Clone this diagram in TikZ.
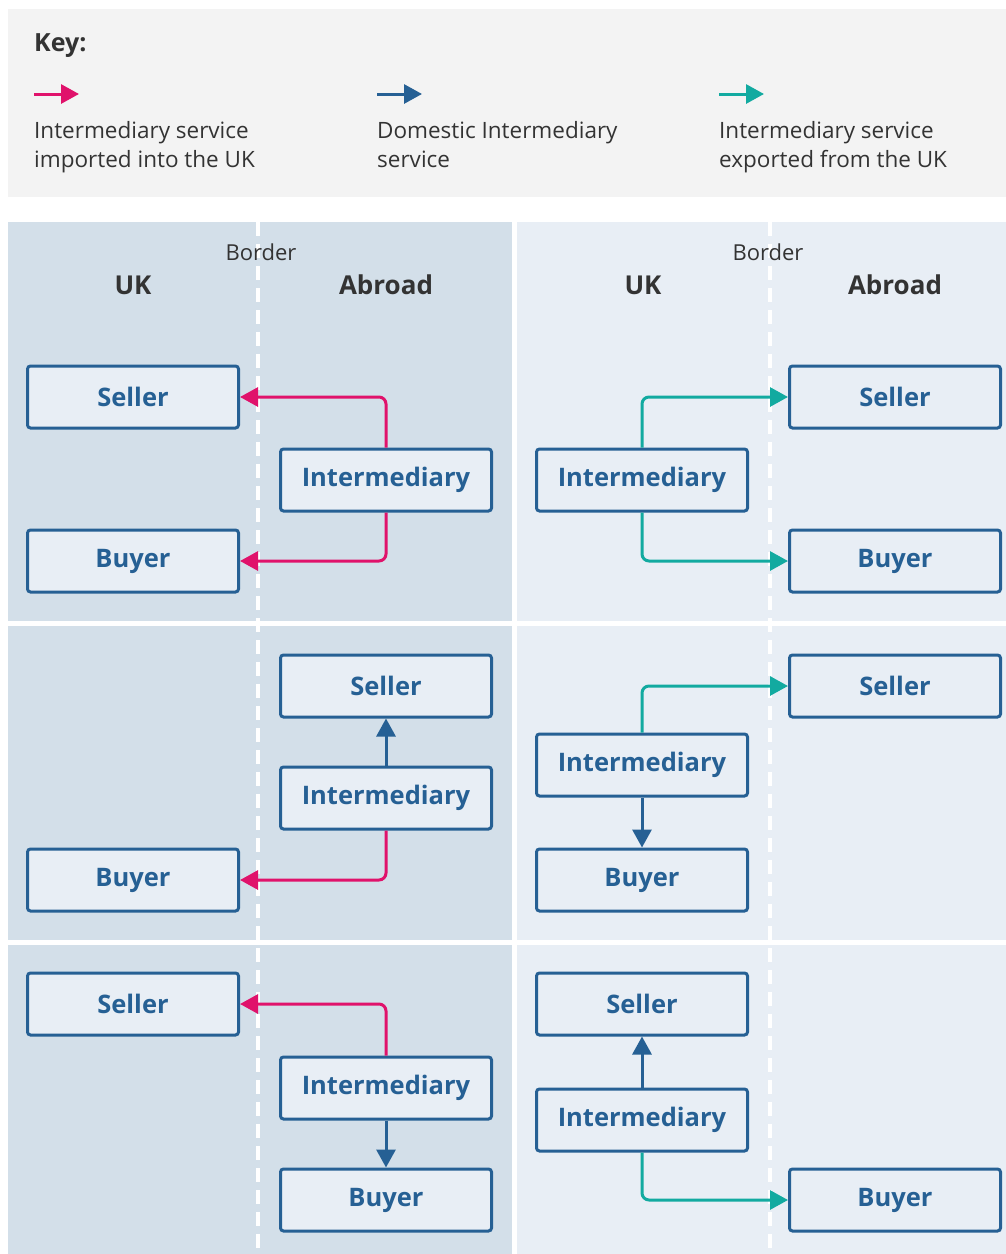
\documentclass[tikz,border=0pt]{standalone}
\usepackage{fontspec}
\setmainfont{Open Sans}
\definecolor{keyBg}{RGB}{243, 243, 243}
\definecolor{darkPanel}{RGB}{211, 223, 233}
\definecolor{lightPanel}{RGB}{232, 238, 245}
\definecolor{boxBlue}{RGB}{38, 96, 148}
\definecolor{importPink}{RGB}{224, 18, 107}
\definecolor{exportTeal}{RGB}{18, 170, 160}
\definecolor{textGray}{RGB}{51, 51, 51}
\usetikzlibrary{arrows.meta,positioning}

\begin{document}
\begin{tikzpicture}[x=1pt,y=-1pt,
        party/.style={rounded corners=3pt,fill=lightPanel,draw=boxBlue,line width=3pt,
                     minimum width=211pt,minimum height=62pt,inner sep=0pt,
                     text=boxBlue,font=\fontsize{25.5}{30}\selectfont\bfseries},
        flow/.style={line width=3pt,rounded corners=7pt,-{Triangle[length=18pt,width=19pt]}},
        imported/.style={flow,draw=importPink},
        domestic/.style={flow,draw=boxBlue},
        exported/.style={flow,draw=exportTeal},
        keytext/.style={anchor=north west,align=left,text=textGray,inner sep=0pt,
                     font=\fontsize{22.5}{29}\selectfont},
        side/.style={text=textGray,font=\fontsize{26}{30}\selectfont\bfseries},
        border/.style={draw=white,line width=4pt,dash pattern=on 14pt off 8pt}
    ]
        \useasboundingbox (0,0) rectangle (1006,1254);

        % Key
        \fill[keyBg] (8,9) rectangle (1006,197);
        \node[anchor=west,inner sep=0pt,text=textGray,font=\fontsize{25}{30}\selectfont\bfseries] (key) at (34,46) {Key:};
        \coordinate (k1a) at (34,94);  \coordinate (k1b) at (79,94);
        \coordinate (k2a) at (377,94); \coordinate (k2b) at (422,94);
        \coordinate (k3a) at (719,94); \coordinate (k3b) at (764,94);
        \draw[imported] (k1a) -- (k1b);
        \draw[domestic] (k2a) -- (k2b);
        \draw[exported] (k3a) -- (k3b);
        \node[keytext] (kt1) at (34,121) {Intermediary service\\imported into the UK};
        \node[keytext] (kt2) at (377,121) {Domestic Intermediary\\service};
        \node[keytext] (kt3) at (719,121) {Intermediary service\\exported from the UK};

        % Panels
        \fill[darkPanel] (8,222) rectangle (512,621);
        \fill[darkPanel] (8,626) rectangle (512,940);
        \fill[darkPanel] (8,945) rectangle (512,1254);
        \fill[lightPanel] (517,222) rectangle (1006,621);
        \fill[lightPanel] (517,626) rectangle (1006,940);
        \fill[lightPanel] (517,945) rectangle (1006,1254);

        % Borders
        \draw[border] (258,222) -- (258,1254);
        \draw[border] (770,222) -- (770,1254);
        \node[text=textGray,font=\fontsize{22}{26}\selectfont] (b1) at (261,252) {Border};
        \node[text=textGray,font=\fontsize{22}{26}\selectfont] (b2) at (768,252) {Border};
        \node[side] (uk1) at (133,285) {UK};
        \node[side] (ab1) at (386,285) {Abroad};
        \node[side] (uk2) at (643,285) {UK};
        \node[side] (ab2) at (895,285) {Abroad};

        % Left, row 1
        \node[party] (ls1) at (133,397) {Seller};
        \node[party] (li1) at (386,480) {Intermediary};
        \node[party] (lb1) at (133,561) {Buyer};
        \draw[imported] (li1.north) |- (ls1.east);
        \draw[imported] (li1.south) |- (lb1.east);

        % Left, row 2
        \node[party] (ls2) at (386,686) {Seller};
        \node[party] (li2) at (386,798) {Intermediary};
        \node[party] (lb2) at (133,880) {Buyer};
        \draw[domestic] (li2) -- (ls2);
        \draw[imported] (li2.south) |- (lb2.east);

        % Left, row 3
        \node[party] (ls3) at (133,1004) {Seller};
        \node[party] (li3) at (386,1088) {Intermediary};
        \node[party] (lb3) at (386,1200) {Buyer};
        \draw[imported] (li3.north) |- (ls3.east);
        \draw[domestic] (li3) -- (lb3);

        % Right, row 1
        \node[party] (rs1) at (895,397) {Seller};
        \node[party] (ri1) at (642,480) {Intermediary};
        \node[party] (rb1) at (895,561) {Buyer};
        \draw[exported] (ri1.north) |- (rs1.west);
        \draw[exported] (ri1.south) |- (rb1.west);

        % Right, row 2
        \node[party] (rs2) at (895,686) {Seller};
        \node[party] (ri2) at (642,765) {Intermediary};
        \node[party] (rb2) at (642,880) {Buyer};
        \draw[exported] (ri2.north) |- (rs2.west);
        \draw[domestic] (ri2) -- (rb2);

        % Right, row 3
        \node[party] (rs3) at (642,1004) {Seller};
        \node[party] (ri3) at (642,1120) {Intermediary};
        \node[party] (rb3) at (895,1200) {Buyer};
        \draw[domestic] (ri3) -- (rs3);
        \draw[exported] (ri3.south) |- (rb3.west);
    \end{tikzpicture}
\end{document}
